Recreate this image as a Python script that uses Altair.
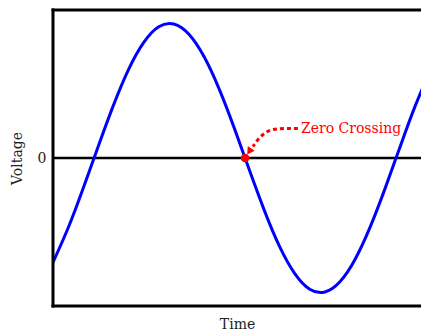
import altair as alt
import pandas as pd

# Sine wave samples (time in periods, voltage normalised)
time = [0.00, 0.05, 0.10, 0.15, 0.20, 0.25, 0.30, 0.35, 0.40, 0.45, 0.50, 0.55, 0.60,
        0.65, 0.70, 0.75, 0.80, 0.85, 0.90, 0.95, 1.00, 1.05, 1.10, 1.15, 1.20, 1.25]
voltage = [-0.775, -0.520, -0.224, 0.088, 0.391, 0.657, 0.857, 0.975, 0.996, 0.920,
           0.754, 0.514, 0.224, -0.088, -0.391, -0.657, -0.857, -0.975, -0.996, -0.920,
           -0.754, -0.514, -0.224, 0.088, 0.391, 0.657]

cross_t = [0.636]
cross_v = [0.0]

# Annotation arrow path (data units)
arrow_t = [0.811, 0.765, 0.728, 0.699, 0.679, 0.662]
arrow_v = [0.219, 0.219, 0.211, 0.181, 0.137, 0.085]
head_t = [0.652]
head_v = [0.056]
label_t = [0.821]
label_v = [0.219]
label_text = ["Zero Crossing"]

X_DOMAIN = [0, 1.2185]
Y_DOMAIN = [-1.1, 1.1]
FONT = "DejaVu Serif"
RED = "#ff0000"
TXT = "#222222"

xs = alt.Scale(domain=X_DOMAIN, nice=False, zero=False)
ys = alt.Scale(domain=Y_DOMAIN, nice=False, zero=False)

wave_df = pd.DataFrame({"t": time, "v": voltage})

wave = alt.Chart(wave_df).mark_line(color="#0000ff", strokeWidth=3, interpolate="natural",
                                    clip=True).encode(
    x=alt.X("t:Q", scale=xs,
            axis=alt.Axis(title="Time", labels=False, ticks=False, domain=False, grid=False,
                          titleFont=FONT, titleFontSize=14, titleFontWeight="normal",
                          titleColor=TXT, titlePadding=11)),
    y=alt.Y("v:Q", scale=ys,
            axis=alt.Axis(title="Voltage", values=[0], format="d", ticks=False, domain=False,
                          grid=False, labelFont=FONT, labelFontSize=14, labelColor=TXT,
                          labelPadding=7, titleFont=FONT, titleFontSize=14,
                          titleFontWeight="normal", titleColor=TXT, titlePadding=13)),
)

zero_line = alt.Chart(pd.DataFrame({"v": [0.0]})).mark_rule(color="black", strokeWidth=2.5).encode(
    y=alt.Y("v:Q", scale=ys)
)

frame_left = alt.Chart(pd.DataFrame({"a": [0]})).mark_rule(color="black", strokeWidth=3).encode(
    x=alt.value(0), y=alt.value(-1.5), y2=alt.value(297.5))
frame_top = alt.Chart(pd.DataFrame({"a": [0]})).mark_rule(color="black", strokeWidth=3).encode(
    x=alt.value(-1.5), x2=alt.value(400), y=alt.value(0))
frame_bottom = alt.Chart(pd.DataFrame({"a": [0]})).mark_rule(color="black", strokeWidth=3).encode(
    x=alt.value(-1.5), x2=alt.value(400), y=alt.value(296))

arrow_df = pd.DataFrame({"t": arrow_t, "v": arrow_v, "o": list(range(len(arrow_t)))})
arrow = alt.Chart(arrow_df).mark_line(color=RED, strokeWidth=3, strokeDash=[4, 3],
                                      interpolate="monotone").encode(
    x=alt.X("t:Q", scale=xs), y=alt.Y("v:Q", scale=ys), order="o:O")

head = alt.Chart(pd.DataFrame({"t": head_t, "v": head_v})).mark_point(
    shape="triangle", filled=True, color=RED, size=70, angle=214, opacity=1).encode(
    x=alt.X("t:Q", scale=xs), y=alt.Y("v:Q", scale=ys))

dot = alt.Chart(pd.DataFrame({"t": cross_t, "v": cross_v})).mark_circle(
    color=RED, size=75, opacity=1).encode(
    x=alt.X("t:Q", scale=xs), y=alt.Y("v:Q", scale=ys))

label = alt.Chart(pd.DataFrame({"t": label_t, "v": label_v, "s": label_text})).mark_text(
    color=RED, font=FONT, fontSize=14, align="left", baseline="middle").encode(
    x=alt.X("t:Q", scale=xs), y=alt.Y("v:Q", scale=ys), text="s:N")

chart = alt.layer(zero_line, wave, arrow, head, dot, label,
                  frame_left, frame_top, frame_bottom).properties(
    width=368, height=296,
    autosize=alt.AutoSizeParams(type="none"),
    padding={"left": 45, "top": 2, "right": 0, "bottom": 24},
).configure_view(stroke=None)

chart.save("out.html", embed_options={"renderer": "svg", "actions": False})
